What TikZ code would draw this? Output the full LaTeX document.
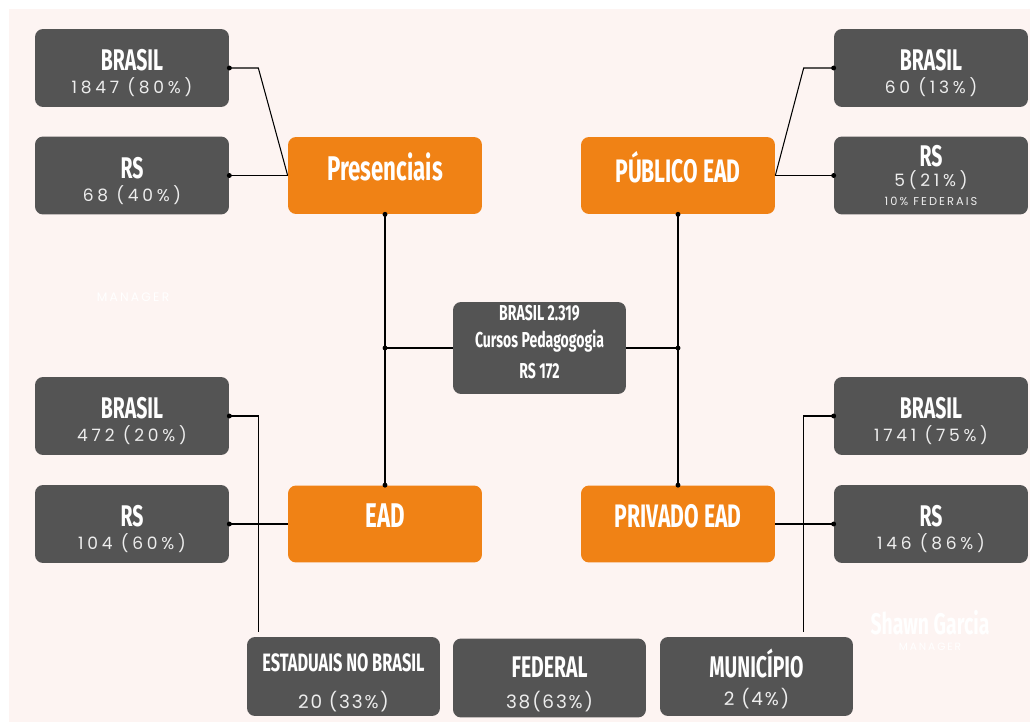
\documentclass[tikz,border=0pt]{standalone}
\usepackage{fontspec}
\setmainfont{Poppins}
\newfontfamily\headfont[FakeStretch=0.65]{Fira Sans}
\newfontfamily\numfont[LetterSpace=22]{Poppins}
\newfontfamily\lownumfont[LetterSpace=10]{Poppins}
\newfontfamily\tagfont[LetterSpace=18]{Poppins}
\definecolor{bgpink}{HTML}{FDF4F2}
\definecolor{boxgray}{HTML}{545454}
\definecolor{boxorange}{HTML}{F08215}
\definecolor{numgray}{HTML}{EDEDED}
\newcommand{\boxtitle}[1]{{\headfont\bfseries\fontsize{17}{17}\selectfont #1}}
\newcommand{\boxnum}[1]{{\numfont\fontsize{9.7}{12}\selectfont\color{numgray}#1}}
\newcommand{\lownum}[1]{{\lownumfont\fontsize{10.5}{12}\selectfont\color{numgray}#1}}
\newcommand{\lift}{\rule{0pt}{18pt}}

\begin{document}
\begin{tikzpicture}[x=0.02cm, y=-0.02cm,
  graybox/.style={fill=boxgray, rounded corners=0.16cm, minimum width=3.88cm,
    minimum height=1.56cm, inner sep=0pt, align=center, text=white,
    font=\fontsize{10}{13}\selectfont},
  lowbox/.style={graybox, minimum width=3.86cm, minimum height=1.58cm},
  orangebox/.style={fill=boxorange, rounded corners=0.16cm, minimum width=3.88cm,
    minimum height=1.54cm, inner sep=0pt, text=white, text depth=0.34cm,
    font=\headfont\bfseries\fontsize{19.5}{19.5}\selectfont},
  link/.style={draw=black, line width=0.6pt},
  joint/.style={fill=black}
]
\useasboundingbox (0,0) rectangle (1030,722);
% Background
\fill [bgpink] (9,9) rectangle (1030,722);

% Faint names
\node [text=white, font=\tagfont\fontsize{7}{7}\selectfont] (mgrleft) at (133,297) {MANAGER};
\node [text=white, font=\headfont\bfseries\fontsize{17}{17}\selectfont] (shawn) at (930,623) {Shawn Garcia};
\node [text=white, font=\tagfont\fontsize{6}{6}\selectfont] (mgrright) at (930,647) {MANAGER};

% Top left
\node [graybox] (tlbrasil) at (132,68) {\lift\boxtitle{BRASIL}\\\boxnum{1847 (80\%)}};
\node [graybox] (tlrs) at (132,175.5) {\lift\boxtitle{RS}\\\boxnum{68 (40\%)}};
\node [orangebox] (pres) at (385,175.5) {Presenciais};

% Top right
\node [orangebox, font=\headfont\bfseries\fontsize{18.5}{19.5}\selectfont] (pub) at (678,175.5) {PÚBLICO EAD};
\node [graybox] (trbrasil) at (931,68) {\lift\boxtitle{BRASIL}\\\boxnum{60 (13\%)}};
\node [graybox, font=\fontsize{10}{11}\selectfont] (trrs) at (931,175.5)
  {\boxtitle{RS}\\\boxnum{5(21\%)}\\{\tagfont\fontsize{6.5}{8}\selectfont\color{numgray}10\% FEDERAIS}};

% Centre
\node [graybox, minimum width=3.46cm, minimum height=1.84cm,
  font=\headfont\bfseries\fontsize{12.3}{15.5}\selectfont] (total) at (539.5,348)
  {BRASIL 2.319\\Cursos Pedagogogia\\[2.5pt]RS 172\rule[-7pt]{0pt}{7pt}};

% Bottom left
\node [graybox] (blbrasil) at (132,416) {\lift\boxtitle{BRASIL}\\\boxnum{472 (20\%)}};
\node [graybox] (blrs) at (132,524) {\lift\boxtitle{RS}\\\boxnum{104 (60\%)}};
\node [orangebox] (ead) at (385,524) {EAD};

% Bottom right
\node [orangebox, font=\headfont\bfseries\fontsize{18.5}{19.5}\selectfont] (priv) at (678,524) {PRIVADO EAD};
\node [graybox] (brbrasil) at (931,416) {\lift\boxtitle{BRASIL}\\\boxnum{1741 (75\%)}};
\node [graybox] (brrs) at (931,524) {\lift\boxtitle{RS}\\\boxnum{146 (86\%)}};

% Bottom row
\node [lowbox, font=\fontsize{10}{21}\selectfont] (esta) at (343.5,676.5)
  {\rule{0pt}{17pt}{\headfont\bfseries\fontsize{14.3}{14}\selectfont ESTADUAIS NO BRASIL}\\\lownum{20 (33\%)}};
\node [lowbox, font=\fontsize{10}{18}\selectfont] (fed) at (549.5,678)
  {\rule{0pt}{19pt}{\headfont\bfseries\fontsize{17}{17}\selectfont FEDERAL}\\\lownum{38(63\%)}};
\node [lowbox, font=\fontsize{10}{16}\selectfont] (muni) at (756.5,676.5)
  {\rule{0pt}{19pt}{\headfont\bfseries\fontsize{17}{17}\selectfont MUNICÍPIO}\\\lownum{2 (4\%)}};

% Links top
\draw [link] (tlbrasil.east) -- ++(29,0) -- (pres.west);
\draw [link] (tlrs.east) -- (pres.west);
\draw [link] (trbrasil.west) -- ++(-30,0) -- (pub.east);
\draw [link] (trrs.west) -- (pub.east);

% Links centre
\draw [link] (pres.south) -- (ead.north);
\draw [link] (pub.south) -- (priv.north);
\draw [link] (total.west) -- (total.west -| pres.south) coordinate (lefthub);
\draw [link] (total.east) -- (total.east -| pub.south) coordinate (righthub);

% Links bottom
\draw [link, shorten >=2.8pt] (blbrasil.east) -- ++(29,0) coordinate (leftturn) -- (leftturn |- esta.north);
\draw [link] (blrs.east) -- (ead.west);
\draw [link, shorten >=2.8pt] (brbrasil.west) -- ++(-30,0) coordinate (rightturn) -- (rightturn |- muni.north);
\draw [link] (brrs.west) -- (priv.east);

% Dots
\foreach \p in {tlbrasil.east, tlrs.east, trbrasil.west, trrs.west,
  blbrasil.east, blrs.east, brbrasil.west, brrs.west,
  pres.south, pub.south, ead.north, priv.north, lefthub, righthub}
  \fill [joint] (\p) circle [radius=1.4pt];
\end{tikzpicture}
\end{document}
